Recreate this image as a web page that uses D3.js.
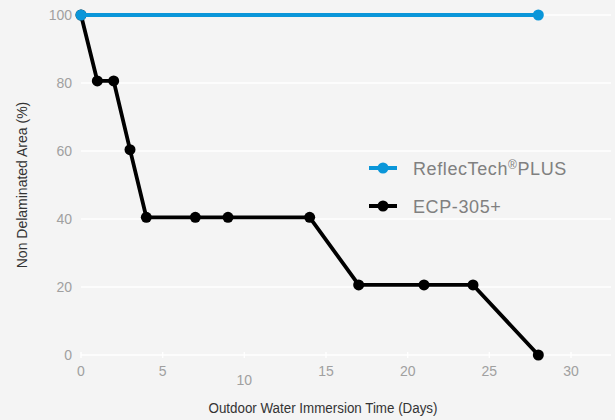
<!DOCTYPE html>
<html><head><meta charset="utf-8">
<script src="https://cdn.jsdelivr.net/npm/d3@7/dist/d3.min.js"></script>
<style>
html,body{margin:0;padding:0;background:#f4f4f4;}
svg{display:block;}
text{font-family:"Helvetica Neue",Helvetica,"Liberation Sans",Arial,sans-serif;}
</style></head><body>
<svg id="c" width="615" height="420"></svg>
<script>
const seriesNames = ["ReflecTech\u00AEPLUS", "ECP-305+"];
const seriesColors = ["#0a96d9", "#000000"];
const reflecDays = [0, 28];
const reflecValues = [100, 100];
const ecpDays = [0, 1, 2, 3, 4, 7, 9, 14, 17, 21, 24, 28];
const ecpValues = [100, 80.6, 80.6, 60.4, 40.5, 40.5, 40.5, 40.5, 20.6, 20.6, 20.6, 0];
const xTicks = [0, 5, 10, 15, 20, 25, 30];
const yTicks = [0, 20, 40, 60, 80, 100];
const xTitle = "Outdoor Water Immersion Time (Days)";
const yTitle = "Non Delaminated Area (%)";

const svg = d3.select("#c");
const x = d3.scaleLinear().domain([0, 30]).range([81, 571]);
const y = d3.scaleLinear().domain([0, 100]).range([355, 15]);
const gridRight = 611;

// gridlines
svg.append("g").selectAll("line").data(yTicks).join("line")
  .attr("x1", x(0)).attr("x2", gridRight)
  .attr("y1", d => y(d)).attr("y2", d => y(d))
  .attr("stroke", "#ffffff").attr("stroke-width", 1.5);

// x axis tick marks
svg.append("g").selectAll("line").data(xTicks).join("line")
  .attr("x1", d => x(d)).attr("x2", d => x(d))
  .attr("y1", y(0) - 3).attr("y2", y(0) + 3)
  .attr("stroke", "#ffffff").attr("stroke-width", 1.5);

// y tick labels
svg.append("g").selectAll("text").data(yTicks).join("text")
  .attr("x", 72).attr("y", d => y(d)).attr("dy", "0.35em")
  .attr("text-anchor", "end").attr("font-size", 14).attr("fill", "#a0a0a0")
  .text(d => d);

// x tick labels
svg.append("g").selectAll("text").data(xTicks).join("text")
  .attr("x", d => x(d)).attr("y", d => d === 10 ? 385 : 376)
  .attr("text-anchor", "middle").attr("font-size", 14).attr("fill", "#a0a0a0")
  .text(d => d);

// titles
svg.append("text").attr("x", 323).attr("y", 413)
  .attr("text-anchor", "middle").attr("font-size", 14).attr("fill", "#333")
  .attr("textLength", 229).attr("lengthAdjust", "spacingAndGlyphs")
  .text(xTitle);
svg.append("text").attr("transform", "translate(27,185) rotate(-90)")
  .attr("text-anchor", "middle").attr("font-size", 14).attr("fill", "#333")
  .text(yTitle);

const line = d3.line().x(d => x(d[0])).y(d => y(d[1]));
const ecp = ecpDays.map((d, i) => [d, ecpValues[i]]);
const ref = reflecDays.map((d, i) => [d, reflecValues[i]]);

// ECP
svg.append("path").datum(ecp).attr("d", line).attr("fill", "none")
  .attr("stroke", seriesColors[1]).attr("stroke-width", 3.8).attr("stroke-linejoin", "round");
svg.append("g").selectAll("circle").data(ecp).join("circle")
  .attr("cx", d => x(d[0])).attr("cy", d => y(d[1])).attr("r", 5.5).attr("fill", seriesColors[1]);

// ReflecTech
svg.append("path").datum(ref).attr("d", line).attr("fill", "none")
  .attr("stroke", seriesColors[0]).attr("stroke-width", 4);
svg.append("g").selectAll("circle").data(ref).join("circle")
  .attr("cx", d => x(d[0])).attr("cy", d => y(d[1])).attr("r", 5.5).attr("fill", seriesColors[0]);

// legend
const lg = svg.append("g");
seriesNames.forEach((n, i) => {
  const ly = 168 + i * 38;
  lg.append("line").attr("x1", 369).attr("x2", 397).attr("y1", ly).attr("y2", ly)
    .attr("stroke", seriesColors[i]).attr("stroke-width", 4);
  lg.append("circle").attr("cx", 383).attr("cy", ly).attr("r", 5.5).attr("fill", seriesColors[i]);
  const t = lg.append("text").attr("x", 413).attr("y", ly + 6.5)
    .attr("font-size", 18).attr("letter-spacing", 0.6).attr("fill", "#808080");
  if (n.includes("\u00AE")) {
    const parts = n.split("\u00AE");
    t.append("tspan").text(parts[0]);
    t.append("tspan").attr("font-size", 12).attr("dy", -6).text("\u00AE");
    t.append("tspan").attr("dy", 6).text(parts[1]);
  } else {
    t.text(n);
  }
});
</script>
</body></html>
